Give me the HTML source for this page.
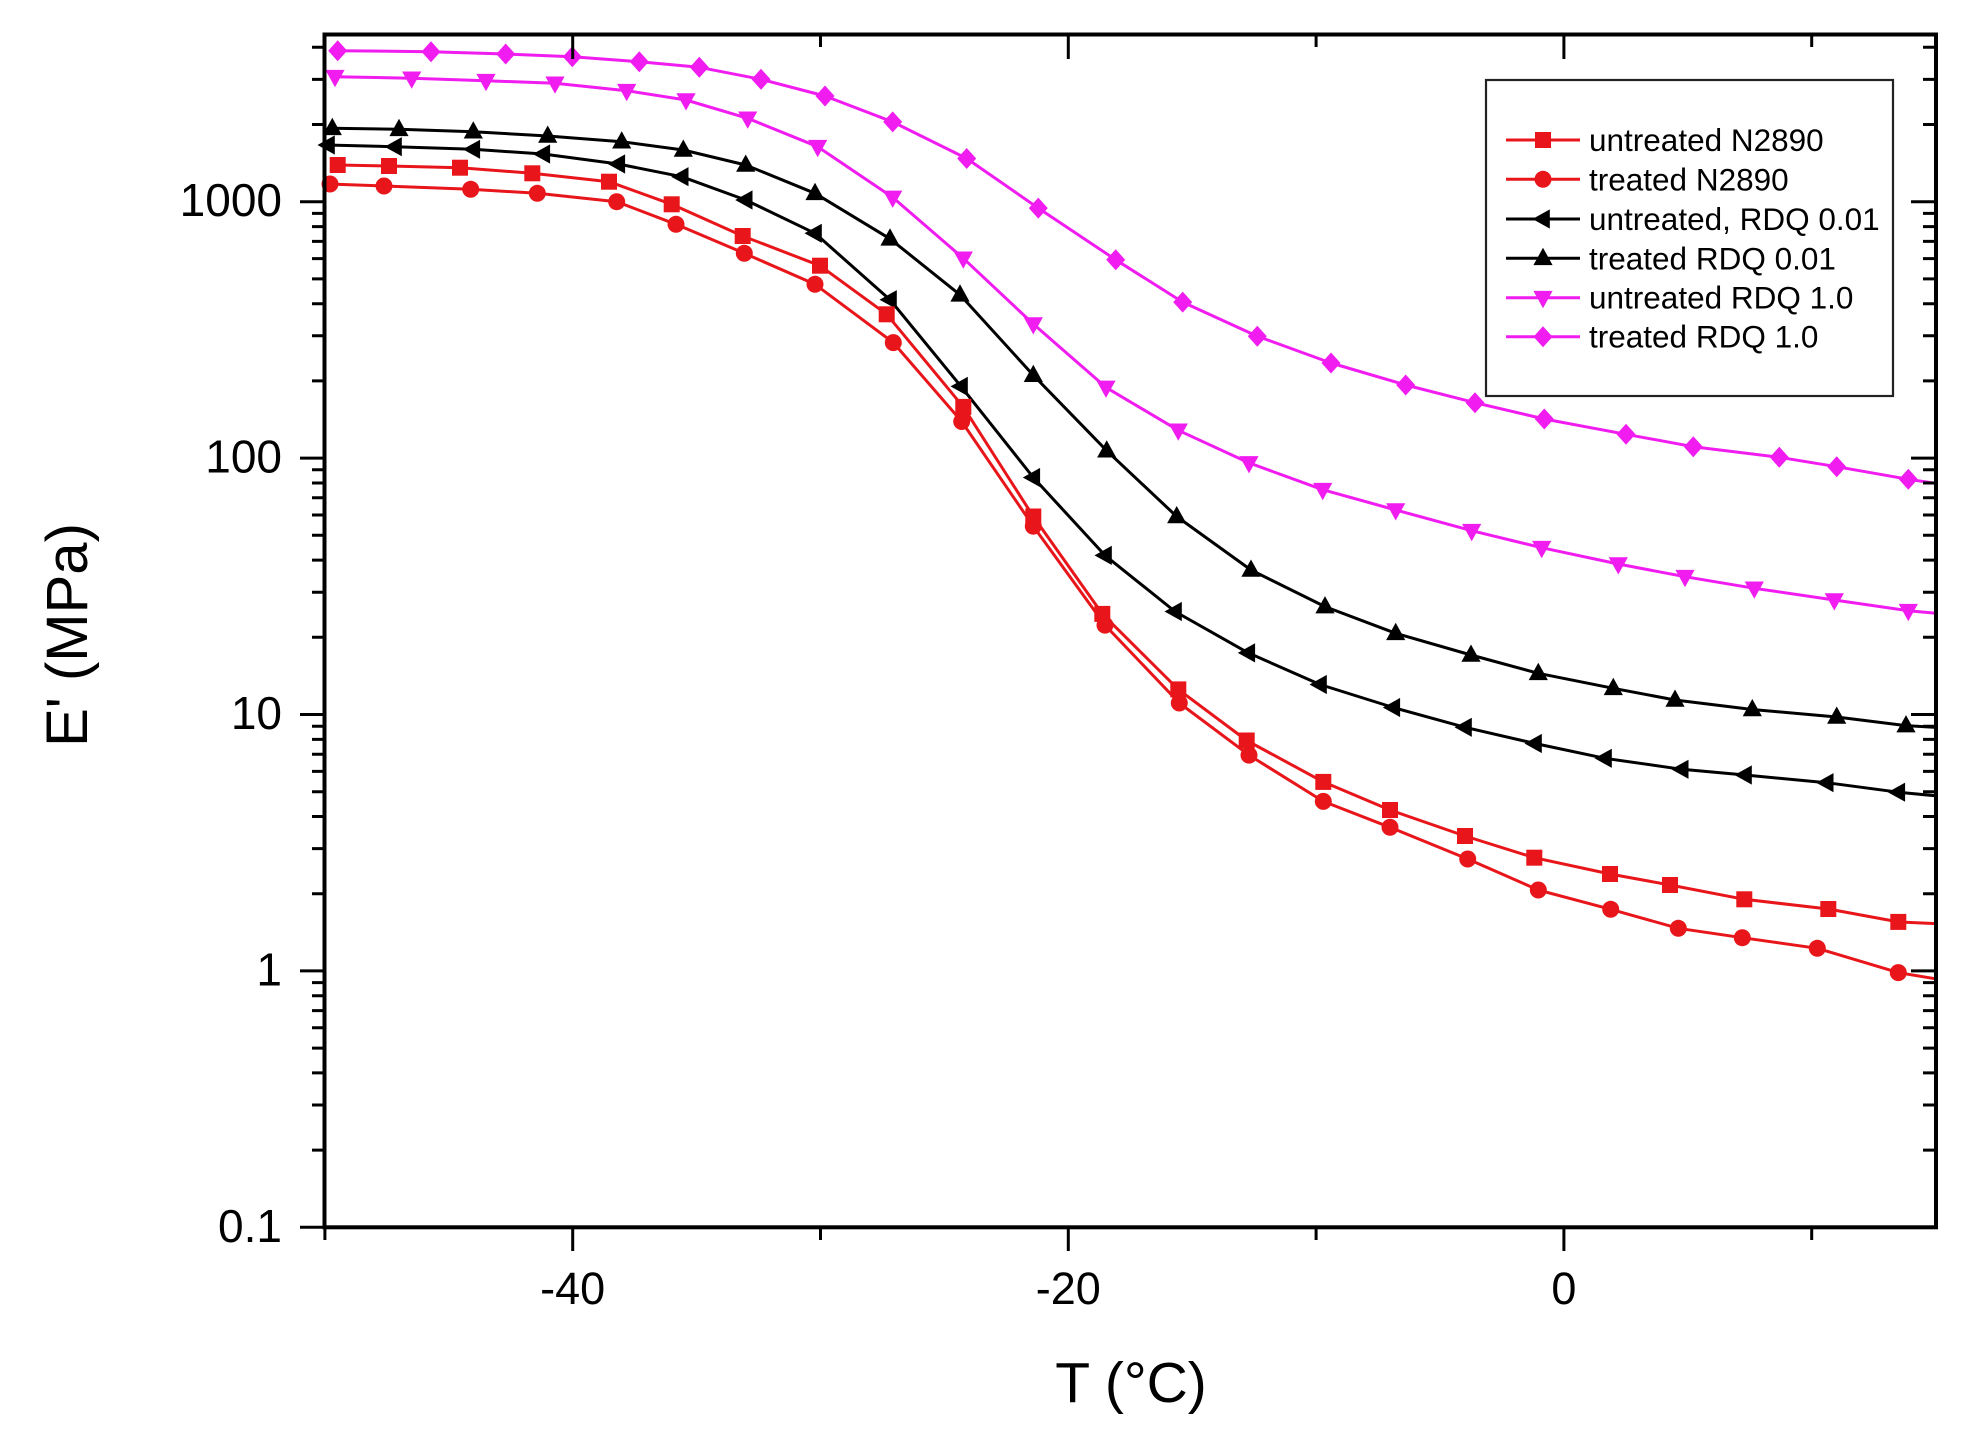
<!DOCTYPE html>
<html><head><meta charset="utf-8"><style>
html,body{margin:0;padding:0;background:#fff;}
svg{display:block;font-family:"Liberation Sans",Arial,sans-serif;}
</style></head><body>
<svg width="1975" height="1452" viewBox="0 0 1975 1452" xmlns="http://www.w3.org/2000/svg">
<defs>
<rect id="sq" x="-8" y="-8" width="16" height="16"/>
<circle id="ci" cx="0" cy="0" r="8.5"/>
<polygon id="ut" points="0,-10.5 9.6,6.8 -9.6,6.8"/>
<polygon id="dt" points="0,10.5 9.6,-6.8 -9.6,-6.8"/>
<polygon id="lt" points="-10.5,0 6.8,-9.6 6.8,9.6"/>
<polygon id="di" points="0,-10.5 9.5,0 0,10.5 -9.5,0"/>
<clipPath id="pc"><rect x="324.5" y="34.5" width="1611.5" height="1192.8"/></clipPath>
</defs>
<rect width="1975" height="1452" fill="#fff"/>

<g clip-path="url(#pc)" fill="none" stroke-width="3" stroke-linejoin="round">
<polyline stroke="#f01cf0" points="337.7,50.7 431,51.7 505.7,54 572.3,56.7 639.3,61.7 699.3,67.3 761,79.3 825,96 892.7,121.9 966.7,158.5 1038.3,208.1 1115.7,259.8 1182.7,302.1 1257.3,336.2 1331,363 1405.7,385 1475,402.7 1544.3,419 1626,434.3 1693.3,446.7 1779.3,457.3 1836.7,466.7 1908.3,479.3 1940,484"/>
<polyline stroke="#f01cf0" points="335,76.7 411.7,78.3 486,80.7 555,83.3 626.7,90.7 686,100 747.7,118.3 817.7,146.7 892.7,197.4 963.3,258.3 1033.3,324 1106,387.4 1178.3,430.3 1249,462.9 1322.7,489.7 1395.7,510 1471.7,530.7 1541.7,547.7 1618.3,564 1685,576.7 1754.3,588.3 1834.3,600 1908.3,610.7 1940,613.6"/>
<polyline stroke="#000" points="332.3,128.3 399,129.3 473.3,131.7 547.7,136 621.7,141.7 683.3,150 745.7,165 815,193.3 890,238.8 960,294.8 1033.3,375.2 1106.7,450.7 1176.7,516.5 1251,570 1325,606.6 1395.7,633.3 1471,655 1538.3,673.3 1613.3,688.3 1675,700 1752.3,709.5 1836.7,717 1906,725.6 1940,727.6"/>
<polyline stroke="#000" points="326.7,145 395,146.7 473.3,149.3 543.3,154 618.3,164 681.7,176.7 745.7,200 815,233.3 890,299.7 961,386.4 1033.3,477.5 1105,555.4 1175,611.5 1248.3,652.9 1320,684.5 1393.3,707.5 1465,727.3 1535,743.5 1605,758.3 1681.7,769.3 1745,775 1826.7,782.7 1898.3,792.2 1940,796.2"/>
<polyline stroke="#e8161a" points="337.7,165 389,166 460,167.7 532.3,173.3 609,181.7 671.7,204.3 742.7,236 820,265.7 886.7,314.3 963.3,406.9 1033.3,516.5 1102.3,613.9 1178.3,689.4 1246.7,740.5 1323.3,781.9 1390,810 1465,836 1534.3,857.7 1610,874 1670,885 1744.3,899.3 1828.3,909 1898.3,921.9 1940,923.8"/>
<polyline stroke="#e8161a" points="328.3,184 384,186 470.7,189.3 537.3,193.3 616.7,201.7 676,224.3 744.3,253.3 815,284.3 893.3,342.6 961.7,421.5 1033.3,526.2 1105,625.1 1179.3,703 1249,755.1 1323.3,801.4 1390,827.3 1467.7,859 1538.3,890 1610.7,909.3 1678.3,928.3 1742.3,937.7 1817.3,948.3 1898.3,972.6 1940,979.5"/>
</g>

<g fill="#f01cf0">
<use href="#di" x="337.7" y="50.7"/><use href="#di" x="431" y="51.7"/><use href="#di" x="505.7" y="54"/><use href="#di" x="572.3" y="56.7"/><use href="#di" x="639.3" y="61.7"/><use href="#di" x="699.3" y="67.3"/><use href="#di" x="761" y="79.3"/><use href="#di" x="825" y="96"/><use href="#di" x="892.7" y="121.9"/><use href="#di" x="966.7" y="158.5"/><use href="#di" x="1038.3" y="208.1"/><use href="#di" x="1115.7" y="259.8"/><use href="#di" x="1182.7" y="302.1"/><use href="#di" x="1257.3" y="336.2"/><use href="#di" x="1331" y="363"/><use href="#di" x="1405.7" y="385"/><use href="#di" x="1475" y="402.7"/><use href="#di" x="1544.3" y="419"/><use href="#di" x="1626" y="434.3"/><use href="#di" x="1693.3" y="446.7"/><use href="#di" x="1779.3" y="457.3"/><use href="#di" x="1836.7" y="466.7"/><use href="#di" x="1908.3" y="479.3"/>
<use href="#dt" x="335" y="76.7"/><use href="#dt" x="411.7" y="78.3"/><use href="#dt" x="486" y="80.7"/><use href="#dt" x="555" y="83.3"/><use href="#dt" x="626.7" y="90.7"/><use href="#dt" x="686" y="100"/><use href="#dt" x="747.7" y="118.3"/><use href="#dt" x="817.7" y="146.7"/><use href="#dt" x="892.7" y="197.4"/><use href="#dt" x="963.3" y="258.3"/><use href="#dt" x="1033.3" y="324"/><use href="#dt" x="1106" y="387.4"/><use href="#dt" x="1178.3" y="430.3"/><use href="#dt" x="1249" y="462.9"/><use href="#dt" x="1322.7" y="489.7"/><use href="#dt" x="1395.7" y="510"/><use href="#dt" x="1471.7" y="530.7"/><use href="#dt" x="1541.7" y="547.7"/><use href="#dt" x="1618.3" y="564"/><use href="#dt" x="1685" y="576.7"/><use href="#dt" x="1754.3" y="588.3"/><use href="#dt" x="1834.3" y="600"/><use href="#dt" x="1908.3" y="610.7"/>
</g>
<g fill="#000">
<use href="#ut" x="332.3" y="128.3"/><use href="#ut" x="399" y="129.3"/><use href="#ut" x="473.3" y="131.7"/><use href="#ut" x="547.7" y="136"/><use href="#ut" x="621.7" y="141.7"/><use href="#ut" x="683.3" y="150"/><use href="#ut" x="745.7" y="165"/><use href="#ut" x="815" y="193.3"/><use href="#ut" x="890" y="238.8"/><use href="#ut" x="960" y="294.8"/><use href="#ut" x="1033.3" y="375.2"/><use href="#ut" x="1106.7" y="450.7"/><use href="#ut" x="1176.7" y="516.5"/><use href="#ut" x="1251" y="570"/><use href="#ut" x="1325" y="606.6"/><use href="#ut" x="1395.7" y="633.3"/><use href="#ut" x="1471" y="655"/><use href="#ut" x="1538.3" y="673.3"/><use href="#ut" x="1613.3" y="688.3"/><use href="#ut" x="1675" y="700"/><use href="#ut" x="1752.3" y="709.5"/><use href="#ut" x="1836.7" y="717"/><use href="#ut" x="1906" y="725.6"/>
<use href="#lt" x="328" y="145"/><use href="#lt" x="395" y="146.7"/><use href="#lt" x="473.3" y="149.3"/><use href="#lt" x="543.3" y="154"/><use href="#lt" x="618.3" y="164"/><use href="#lt" x="681.7" y="176.7"/><use href="#lt" x="745.7" y="200"/><use href="#lt" x="815" y="233.3"/><use href="#lt" x="890" y="299.7"/><use href="#lt" x="961" y="386.4"/><use href="#lt" x="1033.3" y="477.5"/><use href="#lt" x="1105" y="555.4"/><use href="#lt" x="1175" y="611.5"/><use href="#lt" x="1248.3" y="652.9"/><use href="#lt" x="1320" y="684.5"/><use href="#lt" x="1393.3" y="707.5"/><use href="#lt" x="1465" y="727.3"/><use href="#lt" x="1535" y="743.5"/><use href="#lt" x="1605" y="758.3"/><use href="#lt" x="1681.7" y="769.3"/><use href="#lt" x="1745" y="775"/><use href="#lt" x="1826.7" y="782.7"/><use href="#lt" x="1898.3" y="792.2"/>
</g>
<g fill="#e8161a">
<use href="#sq" x="337.7" y="165"/><use href="#sq" x="389" y="166"/><use href="#sq" x="460" y="167.7"/><use href="#sq" x="532.3" y="173.3"/><use href="#sq" x="609" y="181.7"/><use href="#sq" x="671.7" y="204.3"/><use href="#sq" x="742.7" y="236"/><use href="#sq" x="820" y="265.7"/><use href="#sq" x="886.7" y="314.3"/><use href="#sq" x="963.3" y="406.9"/><use href="#sq" x="1033.3" y="516.5"/><use href="#sq" x="1102.3" y="613.9"/><use href="#sq" x="1178.3" y="689.4"/><use href="#sq" x="1246.7" y="740.5"/><use href="#sq" x="1323.3" y="781.9"/><use href="#sq" x="1390" y="810"/><use href="#sq" x="1465" y="836"/><use href="#sq" x="1534.3" y="857.7"/><use href="#sq" x="1610" y="874"/><use href="#sq" x="1670" y="885"/><use href="#sq" x="1744.3" y="899.3"/><use href="#sq" x="1828.3" y="909"/><use href="#sq" x="1898.3" y="921.9"/>
<use href="#ci" x="330" y="184"/><use href="#ci" x="384" y="186"/><use href="#ci" x="470.7" y="189.3"/><use href="#ci" x="537.3" y="193.3"/><use href="#ci" x="616.7" y="201.7"/><use href="#ci" x="676" y="224.3"/><use href="#ci" x="744.3" y="253.3"/><use href="#ci" x="815" y="284.3"/><use href="#ci" x="893.3" y="342.6"/><use href="#ci" x="961.7" y="421.5"/><use href="#ci" x="1033.3" y="526.2"/><use href="#ci" x="1105" y="625.1"/><use href="#ci" x="1179.3" y="703"/><use href="#ci" x="1249" y="755.1"/><use href="#ci" x="1323.3" y="801.4"/><use href="#ci" x="1390" y="827.3"/><use href="#ci" x="1467.7" y="859"/><use href="#ci" x="1538.3" y="890"/><use href="#ci" x="1610.7" y="909.3"/><use href="#ci" x="1678.3" y="928.3"/><use href="#ci" x="1742.3" y="937.7"/><use href="#ci" x="1817.3" y="948.3"/><use href="#ci" x="1898.3" y="972.6"/>
</g>

<rect x="324.5" y="34.5" width="1611.5" height="1192.8" fill="none" stroke="#000" stroke-width="4"/>

<g stroke="#000" stroke-width="3">
<path d="M300,1227.3H324.5M300,970.9H324.5M300,714.5H324.5M300,458.1H324.5M300,201.7H324.5"/>
<path d="M1911,970.9H1936M1911,714.5H1936M1911,458.1H1936M1911,201.7H1936"/>
<path d="M312,1150.1H324.5M312,1105H324.5M312,1072.9H324.5M312,1048.1H324.5M312,1027.8H324.5M312,1010.6H324.5M312,995.8H324.5M312,982.6H324.5
M312,893.7H324.5M312,848.6H324.5M312,816.5H324.5M312,791.7H324.5M312,771.4H324.5M312,754.2H324.5M312,739.4H324.5M312,726.2H324.5
M312,637.3H324.5M312,592.2H324.5M312,560.1H324.5M312,535.3H324.5M312,515H324.5M312,497.8H324.5M312,483H324.5M312,469.8H324.5
M312,380.9H324.5M312,335.8H324.5M312,303.7H324.5M312,278.9H324.5M312,258.6H324.5M312,241.4H324.5M312,226.6H324.5M312,213.4H324.5
M312,124.5H324.5M312,79.4H324.5M312,47.3H324.5"/>
<path d="M1923,1150.1H1936M1923,1105H1936M1923,1072.9H1936M1923,1048.1H1936M1923,1027.8H1936M1923,1010.6H1936M1923,995.8H1936M1923,982.6H1936
M1923,893.7H1936M1923,848.6H1936M1923,816.5H1936M1923,791.7H1936M1923,771.4H1936M1923,754.2H1936M1923,739.4H1936M1923,726.2H1936
M1923,637.3H1936M1923,592.2H1936M1923,560.1H1936M1923,535.3H1936M1923,515H1936M1923,497.8H1936M1923,483H1936M1923,469.8H1936
M1923,380.9H1936M1923,335.8H1936M1923,303.7H1936M1923,278.9H1936M1923,258.6H1936M1923,241.4H1936M1923,226.6H1936M1923,213.4H1936
M1923,124.5H1936M1923,79.4H1936M1923,47.3H1936"/>
<path d="M572.7,1227.3V1251M1068.3,1227.3V1251M1563.9,1227.3V1251"/>
<path d="M324.9,1227.3V1240M820.5,1227.3V1240M1316.1,1227.3V1240M1811.7,1227.3V1240"/>
<path d="M572.7,34.5V59M1068.3,34.5V59M1563.9,34.5V59"/>
<path d="M820.5,34.5V47M1316.1,34.5V47M1811.7,34.5V47"/>
</g>

<g font-size="46" text-anchor="end" fill="#000">
<text x="282" y="1242">0.1</text>
<text x="282" y="985.5">1</text>
<text x="282" y="729">10</text>
<text x="282" y="472.5">100</text>
<text x="282" y="216">1000</text>
</g>
<g font-size="45" text-anchor="middle" fill="#000">
<text x="572.7" y="1304">-40</text>
<text x="1068.3" y="1304">-20</text>
<text x="1563.9" y="1304">0</text>
</g>

<text x="1131" y="1402" font-size="57" text-anchor="middle">T (°C)</text>
<text transform="translate(87,635) rotate(-90)" font-size="58" text-anchor="middle">E' (MPa)</text>

<rect x="1486" y="80" width="407" height="316" fill="#fff" stroke="#222" stroke-width="2.2"/>
<g stroke-width="3">
<line x1="1506" y1="140" x2="1580" y2="140" stroke="#e8161a"/>
<line x1="1506" y1="179.3" x2="1580" y2="179.3" stroke="#e8161a"/>
<line x1="1506" y1="219" x2="1580" y2="219" stroke="#000"/>
<line x1="1506" y1="258.3" x2="1580" y2="258.3" stroke="#000"/>
<line x1="1506" y1="297.7" x2="1580" y2="297.7" stroke="#f01cf0"/>
<line x1="1506" y1="336.7" x2="1580" y2="336.7" stroke="#f01cf0"/>
</g>
<use href="#sq" x="1543" y="140" fill="#e8161a"/>
<use href="#ci" x="1543" y="179.3" fill="#e8161a"/>
<use href="#lt" x="1543" y="219" fill="#000"/>
<use href="#ut" x="1543" y="258.3" fill="#000"/>
<use href="#dt" x="1543" y="297.7" fill="#f01cf0"/>
<use href="#di" x="1543" y="336.7" fill="#f01cf0"/>
<g font-size="31.5" fill="#000">
<text x="1589" y="151">untreated N2890</text>
<text x="1589" y="190.3">treated N2890</text>
<text x="1589" y="230">untreated, RDQ 0.01</text>
<text x="1589" y="269.3">treated RDQ 0.01</text>
<text x="1589" y="308.7">untreated RDQ 1.0</text>
<text x="1589" y="347.7">treated RDQ 1.0</text>
</g>
</svg>
</body></html>
